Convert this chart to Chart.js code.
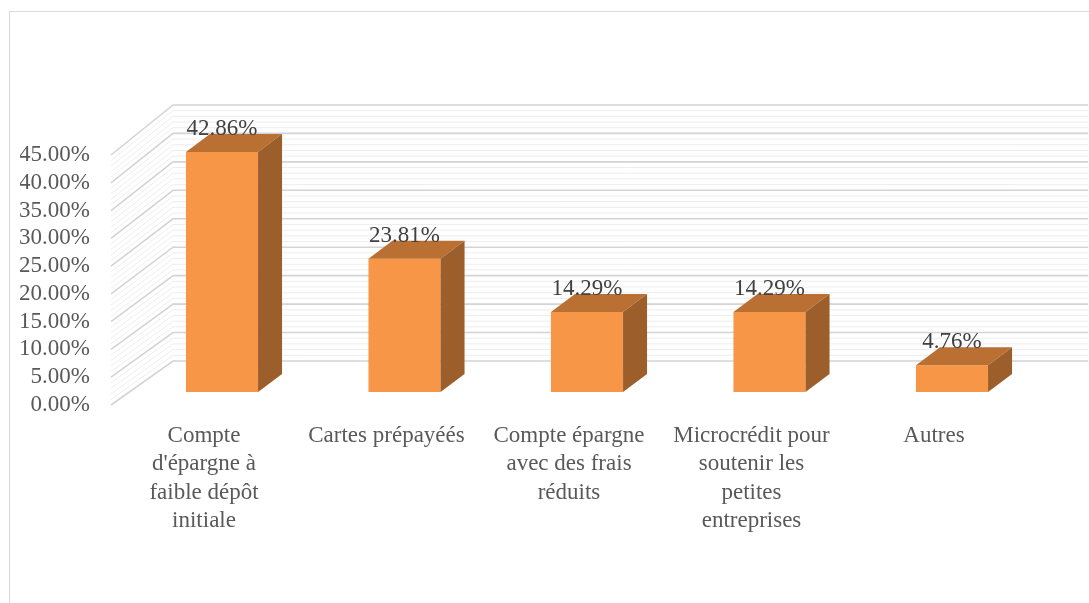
<!DOCTYPE html>
<html><head><meta charset="utf-8">
<script src="https://cdn.jsdelivr.net/npm/chart.js@4.4.1/dist/chart.umd.min.js"></script>
<style>html,body{margin:0;padding:0;background:#fff}#c{display:block}</style>
</head>
<body>
<canvas id="c" width="1089" height="603"></canvas>
<script>
const categories = [
  ["Compte", "d'épargne à", "faible dépôt", "initiale"],
  ["Cartes prépayéés"],
  ["Compte épargne", "avec des frais", "réduits"],
  ["Microcrédit pour", "soutenir les", "petites", "entreprises"],
  ["Autres"]
];
const values = [42.86, 23.81, 14.29, 14.29, 4.76];
const tickValues = [0, 5, 10, 15, 20, 25, 30, 35, 40, 45];
const valueLabels = ["42.86%", "23.81%", "14.29%", "14.29%", "4.76%"];

const FONT = '"Liberation Serif", "Times New Roman", serif';

const threeD = {
  id: 'threeD',
  beforeDraw(chart) {
    const ctx = chart.ctx;
    ctx.save();
    ctx.strokeStyle = '#D9D9D9';
    ctx.lineWidth = 1;
    ctx.strokeRect(9.5, 11.5, 1100, 620);
    ctx.restore();
  },
  beforeDatasetsDraw(chart) {
    const ctx = chart.ctx, ca = chart.chartArea;
    const yF = chart.scales.y, yK = chart.scales.yk;
    const frontX = ca.left - 19.75, backX = frontX + 62, rightX = ca.right + 45;
    ctx.save();
    const drawLevel = (v, major) => {
      ctx.strokeStyle = major ? '#D4D4D4' : '#EDEDED';
      ctx.lineWidth = major ? 1.6 : 1;
      const fy = yF.getPixelForValue(v), by = yK.getPixelForValue(v);
      ctx.beginPath();
      ctx.moveTo(frontX, fy);
      ctx.lineTo(backX, by);
      ctx.lineTo(rightX, by);
      ctx.stroke();
    };
    const maxV = tickValues[tickValues.length - 1];
    for (let v = 0; v <= maxV; v++) if (v % 5 !== 0) drawLevel(v, false);
    tickValues.forEach(v => drawLevel(v, true));
    ctx.restore();
  },
  afterDatasetsDraw(chart) {
    const ctx = chart.ctx;
    const meta = chart.getDatasetMeta(0);
    const DX = 24, DY = -18;
    ctx.save();
    meta.data.forEach((bar, i) => {
      const p = bar.getProps(['x', 'y', 'base', 'width'], true);
      const l = p.x - p.width / 2, r = p.x + p.width / 2, t = p.y, b = p.base;
      ctx.fillStyle = '#BA7033';
      ctx.beginPath();
      ctx.moveTo(l, t); ctx.lineTo(r, t); ctx.lineTo(r + DX, t + DY); ctx.lineTo(l + DX, t + DY);
      ctx.closePath(); ctx.fill();
      ctx.fillStyle = '#9C5E2B';
      ctx.beginPath();
      ctx.moveTo(r, t); ctx.lineTo(r + DX, t + DY); ctx.lineTo(r + DX, b + DY); ctx.lineTo(r, b);
      ctx.closePath(); ctx.fill();
      ctx.fillStyle = '#404040';
      ctx.font = '23px ' + FONT;
      ctx.textAlign = 'center';
      ctx.textBaseline = 'middle';
      ctx.fillText(valueLabels[i], p.x, t - 23);
    });
    ctx.restore();
  }
};

new Chart(document.getElementById('c'), {
  type: 'bar',
  data: {
    labels: categories,
    datasets: [{
      data: values,
      yAxisID: 'yb',
      backgroundColor: '#F79646',
      borderWidth: 0,
      categoryPercentage: 1,
      barPercentage: 0.395,
      clip: false
    }]
  },
  options: {
    responsive: false,
    animation: false,
    layout: { padding: { left: 20, right: 45.75, top: 155, bottom: 10 } },
    plugins: { legend: { display: false }, tooltip: { enabled: false } },
    scales: {
      x: {
        position: 'bottom',
        grid: { display: false, drawTicks: false },
        border: { display: false },
        ticks: {
          color: '#595959', font: { family: FONT, size: 23, lineHeight: 1.23 },
          padding: 17, labelOffset: -18, maxRotation: 0, autoSkip: false
        },
        afterFit(axis) { axis.height = 188; }
      },
      y: {
        position: 'left', min: 0, max: 45,
        grid: { display: false, drawTicks: false },
        border: { display: false },
        afterBuildTicks(axis) { axis.ticks = tickValues.map(v => ({ value: v })); },
        ticks: {
          color: '#595959', font: { family: FONT, size: 23 }, padding: 40.75,
          autoSkip: false,
          callback: v => v.toFixed(2) + '%'
        },
        afterFit(axis) { axis.width = 110.75; }
      },
      yb: { display: false, min: -13 / 5.6, max: (392 - 155) / 5.6 },
      yk: { display: false, min: -44 / 5.69, max: (361 - 155) / 5.69 }
    }
  },
  plugins: [threeD]
});
</script>
</body></html>
